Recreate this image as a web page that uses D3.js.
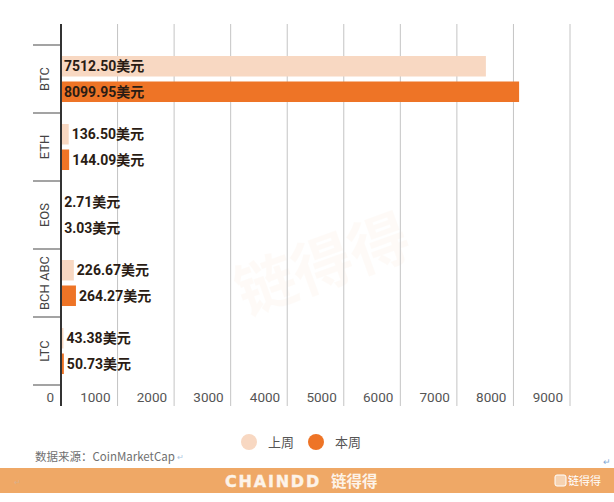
<!DOCTYPE html>
<html><head><meta charset="utf-8">
<script src="https://cdn.jsdelivr.net/npm/d3@7/dist/d3.min.js"></script>
<style>
html,body{margin:0;padding:0;background:#fff;}
svg{display:block;}
</style></head>
<body>
<script>
const categories = ["BTC","ETH","EOS","BCH ABC","LTC"];
const seriesNames = ["上周","本周"];
const lastWeek = [7512.50, 136.50, 2.71, 226.67, 43.38];
const thisWeek = [8099.95, 144.09, 3.03, 264.27, 50.73];
const xTicks = [0,1000,2000,3000,4000,5000,6000,7000,8000,9000];
const colors = ["#F8D8C2","#EE7426"];
const unit = "美元";
const sourceText = "数据来源：CoinMarketCap";
const footerText = "CHAINDD";
const footerTextCn = "链得得";

const W = 614, H = 502;
const svg = d3.select("body").append("svg").attr("width", W).attr("height", H);
const font = "Roboto, 'Noto Sans CJK SC', sans-serif";
const cjk = "'Noto Sans CJK SC', sans-serif";

const x = d3.scaleLinear().domain([0, 9000]).range([61, 570]);
const y = d3.scaleBand().domain(categories).range([45, 385]);
const yInner = d3.scaleBand().domain(seriesNames).range([0, y.bandwidth()])
  .paddingInner(0.196).paddingOuter(0.431);

const gridTop = 24, gridBottom = 406;

// faint watermark
svg.append("text").attr("transform", "translate(330,285) rotate(-20)")
  .attr("text-anchor", "middle").attr("font-family", cjk).attr("font-size", 60)
  .attr("font-weight", "bold").attr("fill", "#F6A866").attr("opacity", 0.045)
  .text(footerTextCn);

// gridlines
svg.append("g").selectAll("line").data(xTicks.filter(d => d > 0)).join("line")
  .attr("x1", d => x(d)).attr("x2", d => x(d))
  .attr("y1", gridTop).attr("y2", gridBottom)
  .attr("stroke", "#c4c4c4").attr("stroke-width", 1);

// x tick labels (placed left of gridlines)
svg.append("g").selectAll("text").data(xTicks).join("text")
  .attr("x", d => x(d) - 7).attr("y", 402)
  .attr("text-anchor", "end")
  .attr("font-family", font).attr("font-size", 13.5).attr("fill", "#555")
  .text(d => d);

// bars
const data = categories.map((c, i) => ({cat: c, vals: [lastWeek[i], thisWeek[i]]}));
const groups = svg.append("g").selectAll("g").data(data).join("g")
  .attr("transform", d => `translate(0,${y(d.cat)})`);

groups.selectAll("rect").data(d => d.vals.map((v, j) => ({v, s: seriesNames[j], j}))).join("rect")
  .attr("x", x(0)).attr("y", d => yInner(d.s))
  .attr("width", d => x(d.v) - x(0)).attr("height", yInner.bandwidth())
  .attr("fill", d => colors[d.j]);

groups.selectAll("text").data(d => d.vals.map((v, j) => ({v, s: seriesNames[j], j}))).join("text")
  .attr("x", d => (x(d.v) - x(0) > 120 ? x(0) : x(d.v)) + 3)
  .attr("y", d => yInner(d.s) + yInner.bandwidth() / 2 + 5)
  .attr("font-family", font).attr("font-size", 14).attr("font-weight", "bold")
  .attr("fill", "#2a1c14")
  .text(d => d.v.toFixed(2) + unit);

// category separators ticks
svg.append("g").selectAll("line").data(categories.concat(["__end"])).join("line")
  .attr("x1", 33).attr("x2", 61)
  .attr("y1", (d, i) => i < categories.length ? y(d) : y.range()[1])
  .attr("y2", (d, i) => i < categories.length ? y(d) : y.range()[1])
  .attr("stroke", "#666").attr("stroke-width", 1.2);

// category labels rotated
svg.append("g").selectAll("text").data(categories).join("text")
  .attr("transform", d => `translate(49,${y(d) + y.bandwidth() / 2}) rotate(-90)`)
  .attr("text-anchor", "middle")
  .attr("font-family", font).attr("font-size", 13).attr("fill", "#444")
  .text(d => d);

// y axis line
svg.append("line").attr("x1", x(0)).attr("x2", x(0))
  .attr("y1", gridTop).attr("y2", gridBottom)
  .attr("stroke", "#333").attr("stroke-width", 2);

// legend
const legendX = [249, 316];
const lg = svg.append("g").selectAll("g").data(seriesNames).join("g")
  .attr("transform", (d, i) => `translate(${legendX[i]},442)`);
lg.append("circle").attr("r", 8).attr("fill", (d, i) => colors[i]);
lg.append("text").attr("x", 19).attr("y", 5)
  .attr("font-family", cjk).attr("font-size", 13).attr("fill", "#555")
  .text(d => d);

// source
svg.append("text").attr("x", 35).attr("y", 461)
  .attr("font-family", cjk).attr("font-size", 11.5).attr("fill", "#707070")
  .text(sourceText);
svg.append("text").attr("x", 177).attr("y", 460)
  .attr("font-family", font).attr("font-size", 8).attr("fill", "#a9c4e0").text("↵");
svg.append("text").attr("x", 603).attr("y", 465)
  .attr("font-family", font).attr("font-size", 9).attr("fill", "#7fa9d6").text("↵");

// footer bar
svg.append("rect").attr("x", 0).attr("y", 468).attr("width", W).attr("height", 25).attr("fill", "#EFA866");
svg.append("text").attr("x", 225).attr("y", 487)
  .attr("font-family", "'DejaVu Sans', sans-serif").attr("font-size", 16).attr("font-weight", "bold")
  .attr("fill", "#fdf3e8").attr("stroke", "#fdf3e8").attr("stroke-width", 0.4)
  .attr("letter-spacing", 1.8).text(footerText);
svg.append("text").attr("x", 331).attr("y", 487)
  .attr("font-family", cjk).attr("font-size", 15.5).attr("font-weight", "bold")
  .attr("fill", "#fdf3e8").text(footerTextCn);
svg.append("text").attr("x", 14).attr("y", 485)
  .attr("font-family", font).attr("font-size", 8).attr("fill", "#d9b08a").text("↵");
// small logo
svg.append("rect").attr("x", 555).attr("y", 475).attr("width", 11).attr("height", 11).attr("rx", 2)
  .attr("fill", "#f6d2b0").attr("stroke", "#fff").attr("stroke-width", 1);
svg.append("text").attr("x", 568).attr("y", 485)
  .attr("font-family", cjk).attr("font-size", 11).attr("fill", "#fff")
  .text(footerTextCn);
</script>
</body></html>
